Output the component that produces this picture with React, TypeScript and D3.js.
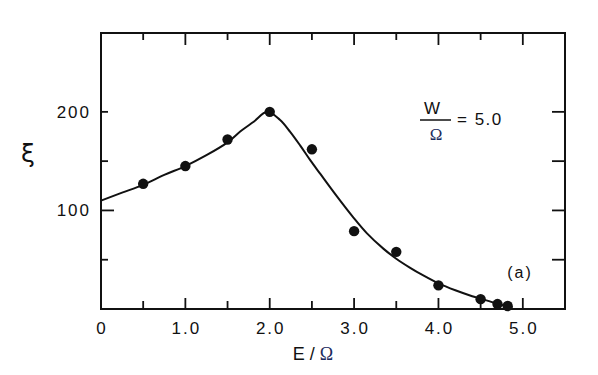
import React, { useEffect, useRef } from "react";
import * as d3 from "d3";

// measured points
const pointE = [0.5, 1.0, 1.5, 2.0, 2.5, 3.0, 3.5, 4.0, 4.5, 4.7, 4.82];
const pointXi = [127, 145, 172, 200, 162, 79, 58, 24, 10, 5, 3];

// theory curve
const curveE = [0, 0.25, 0.5, 0.75, 1.0, 1.25, 1.5, 1.65, 1.81, 1.97, 2.12, 2.24, 2.36, 2.48, 2.6, 2.79, 2.99, 3.15, 3.35, 3.5, 3.66, 3.82, 4.0, 4.2, 4.4, 4.6, 4.75, 4.88];
const curveXi = [110, 118, 126, 136, 145, 156, 169, 180, 190, 200, 192, 180, 166, 151, 137, 115, 93, 77, 61, 51, 42, 34, 26, 19, 13, 8, 4, 2];

// axes
const xMajor = [0, 1, 2, 3, 4, 5];
const xMinor = [0.5, 1.5, 2.5, 3.5, 4.5];
const xTickLabels = ["0", "1.0", "2.0", "3.0", "4.0", "5.0"];
const yTicks = [50, 100, 150, 200];
const yLabelValues = [100, 200];
const yTickLabels = ["100", "200"];

const App = () => {
  const svgRef = useRef<SVGSVGElement>(null);

  useEffect(() => {
    const w = 598;
    const h = 375;
    const svg = d3.select(svgRef.current);
    svg.selectAll("*").remove();

    const x = d3.scaleLinear().domain([0, 5.5]).range([101, 565]);
    const y = d3.scaleLinear().domain([0, 280]).range([309, 33]);
    const [x0, x1] = x.range();
    const [y0, y1] = y.range();
    const ink = "#111";
    const font = "'Liberation Sans', Arial, sans-serif";

    // frame
    svg
      .append("rect")
      .attr("x", x0)
      .attr("y", y1)
      .attr("width", x1 - x0)
      .attr("height", y0 - y1)
      .attr("fill", "none")
      .attr("stroke", ink)
      .attr("stroke-width", 2);

    // bottom + top ticks
    const xt = [
      ...xMajor.map((v) => ({ v, b: 11, t: 12 })),
      ...xMinor.map((v) => ({ v, b: 8, t: 7 })),
    ].filter((d) => d.v > 0);
    svg
      .selectAll(".xb")
      .data(xt)
      .join("line")
      .attr("x1", (d) => x(d.v))
      .attr("x2", (d) => x(d.v))
      .attr("y1", y0)
      .attr("y2", (d) => y0 - d.b)
      .attr("stroke", ink)
      .attr("stroke-width", 1.8);
    svg
      .selectAll(".xt")
      .data(xt)
      .join("line")
      .attr("x1", (d) => x(d.v))
      .attr("x2", (d) => x(d.v))
      .attr("y1", y1)
      .attr("y2", (d) => y1 + d.t)
      .attr("stroke", ink)
      .attr("stroke-width", 1.8);

    // left + right ticks
    svg
      .selectAll(".yl")
      .data(yTicks)
      .join("line")
      .attr("x1", x0)
      .attr("x2", (d) => x0 + (d === 100 ? 13 : 7))
      .attr("y1", (d) => y(d))
      .attr("y2", (d) => y(d))
      .attr("stroke", ink)
      .attr("stroke-width", 1.8);
    svg
      .selectAll(".yr")
      .data(yTicks)
      .join("line")
      .attr("x1", x1)
      .attr("x2", x1 - 13)
      .attr("y1", (d) => y(d))
      .attr("y2", (d) => y(d))
      .attr("stroke", ink)
      .attr("stroke-width", 1.8);

    // tick labels
    svg
      .selectAll(".xl")
      .data(xMajor)
      .join("text")
      .attr("x", (d) => x(d) + 1)
      .attr("y", 334)
      .attr("text-anchor", "middle")
      .attr("font-family", font)
      .attr("font-size", 17)
      .attr("letter-spacing", 2)
      .attr("fill", ink)
      .text((d, i) => xTickLabels[i]);
    svg
      .selectAll(".yll")
      .data(yLabelValues)
      .join("text")
      .attr("x", 91)
      .attr("y", (d) => y(d) + 6)
      .attr("text-anchor", "end")
      .attr("font-family", font)
      .attr("font-size", 17)
      .attr("letter-spacing", 2)
      .attr("fill", ink)
      .text((d, i) => yTickLabels[i]);

    // axis titles
    const xTitle = svg
      .append("text")
      .attr("x", 313)
      .attr("y", 360)
      .attr("text-anchor", "middle")
      .attr("font-family", font)
      .attr("font-size", 18)
      .attr("fill", ink);
    xTitle.append("tspan").text("E / ");
    xTitle
      .append("tspan")
      .attr("font-family", "'Liberation Serif', 'DejaVu Serif', serif")
      .attr("fill", "#1b2b5e")
      .text("Ω");
    svg
      .append("text")
      .attr("x", 28)
      .attr("y", 162)
      .attr("text-anchor", "middle")
      .attr("font-family", "'DejaVu Sans', sans-serif")
      .attr("font-size", 25)
      .attr("fill", ink)
      .text("ξ");

    // curve
    const line = d3
      .line<number>()
      .x((d, i) => x(curveE[i]))
      .y((d) => y(d))
      .curve(d3.curveCatmullRom.alpha(0.5));
    svg
      .append("path")
      .attr("d", line(curveXi))
      .attr("fill", "none")
      .attr("stroke", ink)
      .attr("stroke-width", 2);

    // points
    svg
      .selectAll(".pt")
      .data(pointXi)
      .join("circle")
      .attr("cx", (d, i) => x(pointE[i]))
      .attr("cy", (d) => y(d))
      .attr("r", 5.2)
      .attr("fill", ink);

    // annotation W/Ω = 5.0
    svg
      .append("text")
      .attr("x", 432)
      .attr("y", 114)
      .attr("text-anchor", "middle")
      .attr("font-family", font)
      .attr("font-size", 17)
      .attr("fill", ink)
      .text("W");
    svg
      .append("line")
      .attr("x1", 420)
      .attr("x2", 451)
      .attr("y1", 120)
      .attr("y2", 120)
      .attr("stroke", ink)
      .attr("stroke-width", 1.5);
    svg
      .append("text")
      .attr("x", 436)
      .attr("y", 140)
      .attr("text-anchor", "middle")
      .attr("font-family", "'Liberation Serif', 'DejaVu Serif', serif")
      .attr("font-size", 17)
      .attr("fill", "#1b2b5e")
      .text("Ω");
    svg
      .append("text")
      .attr("x", 457)
      .attr("y", 125)
      .attr("font-family", font)
      .attr("font-size", 17)
      .attr("letter-spacing", 1.5)
      .attr("fill", ink)
      .text("= 5.0");

    svg
      .append("text")
      .attr("x", 520)
      .attr("y", 278)
      .attr("text-anchor", "middle")
      .attr("font-family", font)
      .attr("font-size", 16)
      .attr("letter-spacing", 2)
      .attr("fill", ink)
      .text("(a)");

    svg.attr("width", w).attr("height", h);
  }, []);

  return (
    <svg
      ref={svgRef}
      width={598}
      height={375}
      style={{ position: "absolute", left: 0, top: 0, background: "#fff" }}
    ></svg>
  );
};

export default App;
